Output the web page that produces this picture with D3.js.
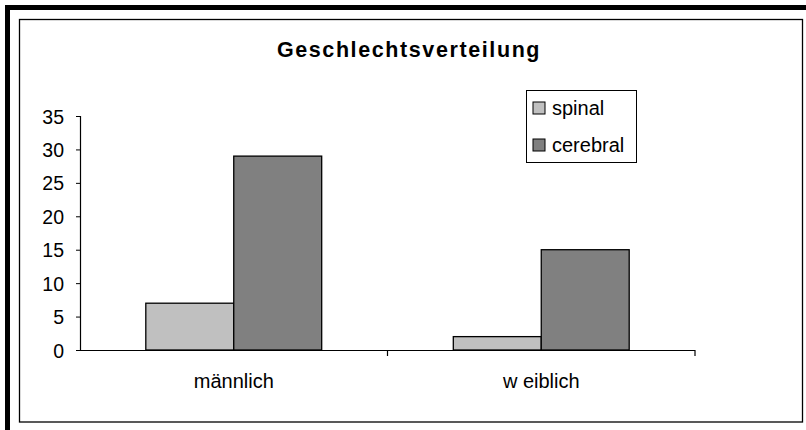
<!DOCTYPE html>
<html>
<head>
<meta charset="utf-8">
<script src="https://cdn.jsdelivr.net/npm/d3@7"></script>
<style>
  html, body { margin: 0; padding: 0; background: #fff; }
  svg { display: block; font-family: Arial, "Liberation Sans", sans-serif; }
</style>
</head>
<body>
<svg id="chart" width="806" height="430"></svg>
<script>
// DATA
const categories = ["männlich", "w eiblich"];
const seriesNames = ["spinal", "cerebral"];
const spinalValues = [7, 2];
const cerebralValues = [29, 15];
const yTicks = [0, 5, 10, 15, 20, 25, 30, 35];
const seriesColors = ["#c0c0c0", "#808080"];

const svg = d3.select("#chart");

// FRAME
svg.append("rect").attr("x", 7.5).attr("y", 7.5).attr("width", 806).attr("height", 430)
  .attr("fill", "none").attr("stroke", "#000").attr("stroke-width", 5);
svg.append("rect").attr("x", 19.5).attr("y", 19.5).attr("width", 783).attr("height", 402.5)
  .attr("fill", "#fff").attr("stroke", "#000").attr("stroke-width", 1.3);

// SCALES
const plot = { left: 80, right: 695, top: 116, bottom: 350 };
const x = d3.scaleBand().domain(categories).range([plot.left, plot.right]).paddingInner(0).paddingOuter(0);
const y = d3.scaleLinear().domain([0, 35]).range([plot.bottom, plot.top]);
const barW = x.bandwidth() * 0.286;

// TITLE
svg.append("text")
  .attr("x", 409).attr("y", 57)
  .attr("text-anchor", "middle")
  .attr("font-weight", "bold")
  .attr("font-size", 21.5)
  .attr("letter-spacing", 1.6)
  .text("Geschlechtsverteilung");

// BARS
const rows = categories.map((c, i) => ({ cat: c, vals: [spinalValues[i], cerebralValues[i]] }));
rows.forEach(r => {
  const cx = x(r.cat) + x.bandwidth() / 2;
  r.vals.forEach((v, j) => {
    svg.append("rect")
      .attr("x", cx - barW + j * barW)
      .attr("y", y(v))
      .attr("width", barW)
      .attr("height", y(0) - y(v))
      .attr("fill", seriesColors[j])
      .attr("stroke", "#000")
      .attr("stroke-width", 1.3);
  });
});

// Y AXIS
const yAxis = svg.append("g")
  .attr("transform", `translate(${plot.left},0)`)
  .call(d3.axisLeft(y).tickValues(yTicks).tickSize(4).tickPadding(12));
yAxis.select(".domain").attr("stroke", "#000").attr("stroke-width", 1.2);
yAxis.selectAll(".tick line").attr("stroke", "#000");
yAxis.selectAll(".tick text")
  .attr("font-size", 19.5).attr("font-family", "Arial, 'Liberation Sans', sans-serif")
  .attr("fill", "#000").attr("dy", "0.36em");

// X AXIS
svg.append("line")
  .attr("x1", plot.left).attr("x2", plot.right)
  .attr("y1", y(0) + 0.5).attr("y2", y(0) + 0.5)
  .attr("stroke", "#000").attr("stroke-width", 1.2);
svg.selectAll(".xtick")
  .data(categories)
  .join("line")
  .attr("class", "xtick")
  .attr("x1", d => x(d) + x.bandwidth()).attr("x2", d => x(d) + x.bandwidth())
  .attr("y1", y(0)).attr("y2", y(0) + 6)
  .attr("stroke", "#000").attr("stroke-width", 1.2);
svg.selectAll(".xlabel")
  .data(categories)
  .join("text")
  .attr("class", "xlabel")
  .attr("x", d => x(d) + x.bandwidth() / 2)
  .attr("y", 388)
  .attr("text-anchor", "middle")
  .attr("font-size", 20)
  .text(d => d);

// LEGEND
const legend = svg.append("g").attr("transform", "translate(526,90)");
legend.append("rect").attr("x", 0.5).attr("y", 0.5).attr("width", 110).attr("height", 72)
  .attr("fill", "#fff").attr("stroke", "#000").attr("stroke-width", 1);
seriesNames.forEach((name, i) => {
  const ly = 12 + i * 37;
  legend.append("rect").attr("x", 7).attr("y", ly).attr("width", 12).attr("height", 12)
    .attr("fill", seriesColors[i]).attr("stroke", "#000").attr("stroke-width", 1);
  legend.append("text").attr("x", 26).attr("y", ly + 13)
    .attr("font-size", 20).text(name);
});
</script>
</body>
</html>
